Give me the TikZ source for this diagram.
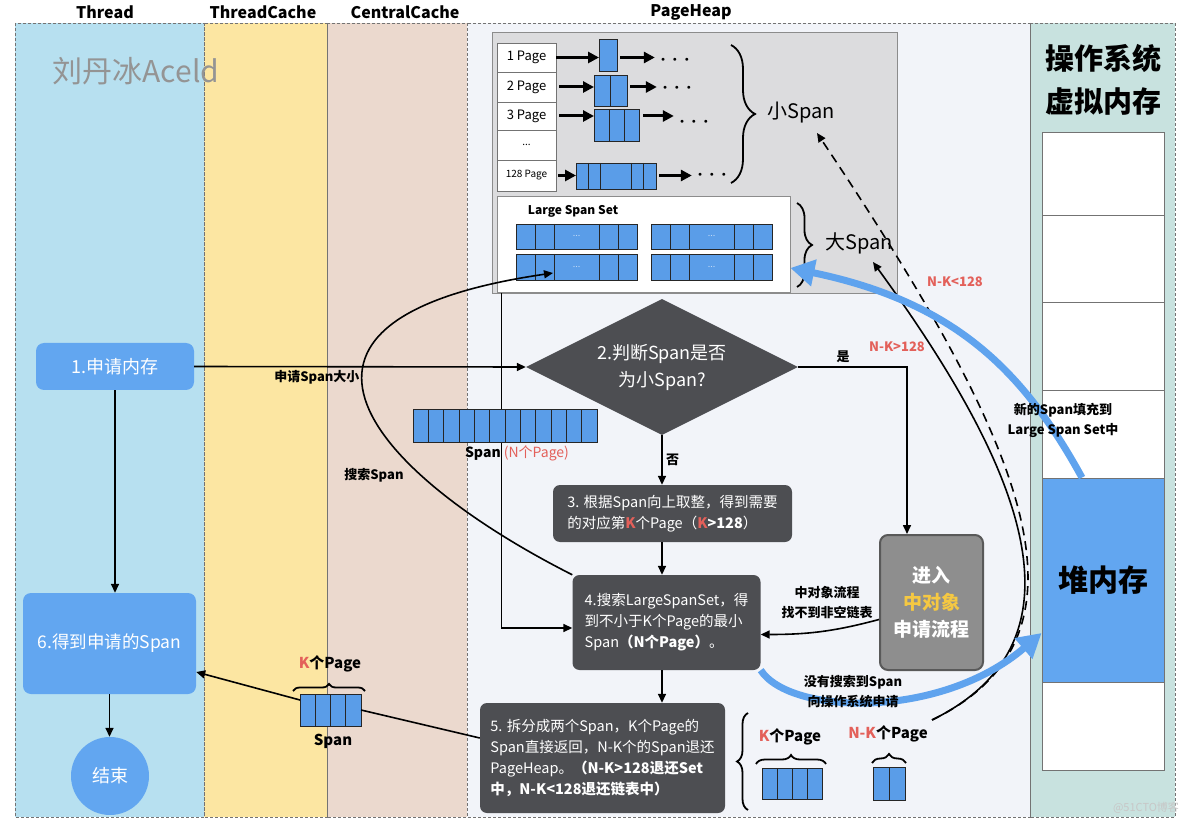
\documentclass[tikz,border=0pt]{standalone}
\usepackage{fontspec}
\setmainfont{Noto Sans CJK SC}
\usetikzlibrary{arrows.meta,shapes.geometric,decorations.pathreplacing,calc}
\definecolor{cThread}{HTML}{B7E0F0}
\definecolor{cTC}{HTML}{FCE6A2}
\definecolor{cCC}{HTML}{EBD9CE}
\definecolor{cPH}{HTML}{F2F4F9}
\definecolor{cOS}{HTML}{C8E2DF}
\definecolor{cGray}{HTML}{DCDCDE}
\definecolor{cSpan}{HTML}{5A9DE8}
\definecolor{cNode}{HTML}{62A6F0}
\definecolor{cDark}{HTML}{4D4E52}
\definecolor{cRed}{HTML}{E3605A}
\definecolor{cMid}{HTML}{8E8E8E}
\definecolor{cYel}{HTML}{F5C842}
\definecolor{cArr}{HTML}{5FA3EE}
\newcommand\myfs[2]{\fontsize{#1}{#2}\selectfont}
\newcommand\spn[6]{%
  \node[spanc, minimum width={#4-#2}, minimum height={#5-#3}] (#1) at ({(#2+#4)/2},{(#3+#5)/2}) {};
  \foreach \dd in {#6} {\draw[spanl] (\dd,#3) -- (\dd,#5);}
}
\newcommand\tridots{$\bullet\hspace{6pt}\bullet\hspace{6pt}\bullet$}
\begin{document}
\begin{tikzpicture}[x=1pt,y=-1pt,
  lane/.style={draw=black!55, dash pattern=on 3pt off 2pt, line width=0.8pt},
  hdr/.style={font=\bfseries\myfs{16}{18}},
  spanc/.style={draw=black!85, fill=cSpan, line width=0.9pt, inner sep=0pt, outer sep=0pt},
  spanl/.style={draw=black!85, line width=0.9pt},
  pg/.style={draw=black!55, fill=white, line width=0.8pt, minimum width=59pt, inner sep=0pt, font=\myfs{13}{15}},
  arr/.style={-{Triangle[length=9pt,width=8pt]}, line width=1.6pt},
  fat/.style={-{Triangle[length=11pt,width=11pt]}, line width=3pt},
  barr/.style={draw=cArr, line width=7pt, -{Triangle[length=24pt,width=26pt]}},
  dbox/.style={rounded corners=7pt, fill=cDark, text=white, inner sep=0pt, align=left, font=\myfs{14.5}{21}},
  bnode/.style={rounded corners=8pt, fill=cNode, text=white, inner sep=0pt},
  lbl/.style={font=\bfseries\myfs{13}{20}, align=center},
  rlbl/.style={font=\bfseries\myfs{13}{16}, text=cRed},
  klbl/.style={font=\bfseries\myfs{15}{17}},
  brc/.style={decorate, decoration={brace, amplitude=#1}, line width=1.8pt},
  cell/.style={draw=black!55, fill=white, line width=0.8pt, minimum width=122pt, inner sep=0pt},
  dots/.style={font=\myfs{7.5}{8}, inner sep=6pt}
]
\useasboundingbox[fill=white] (0,0) rectangle (1184,826);
% lanes
\fill[cThread] (15,23) rectangle (204,817);
\fill[cTC] (204,23) rectangle (327,817);
\fill[cCC] (327,23) rectangle (467,817);
\fill[cPH] (467,23) rectangle (1030,817);
\fill[cOS] (1030,23) rectangle (1175,817);
\foreach \a/\b in {15/204,204/327,327/467,467/1030,1030/1175} \draw[lane] (\a,23) rectangle (\b,817);
\node[hdr] (hT) at (105,12) {Thread};
\node[hdr] (hTC) at (263,12) {ThreadCache};
\node[hdr] (hCC) at (405,12) {CentralCache};
\node[hdr] (hPH) at (691,12) {PageHeap};
\node[text=black!42, font=\myfs{30}{32}] (wm) at (136,71) {刘丹冰Aceld};
\node[text=black!22, font=\myfs{11}{12}] (wm2) at (1146,808) {@51CTO博客};

% PageHeap gray box
\node[draw=black!45, fill=cGray, line width=0.8pt, minimum width=405pt, minimum height=261pt, inner sep=0pt] (ph) at (694.5,162.5) {};
\node[pg, minimum height=29pt] (p1) at (526.5,57.5) {1 Page};
\node[pg, minimum height=30pt] (p2) at (526.5,87) {2 Page};
\node[pg, minimum height=28pt] (p3) at (526.5,116) {3 Page};
\node[pg, minimum height=30pt, font=\myfs{10}{10}] (pd) at (526.5,145) {...};
\node[pg, minimum height=31pt, font=\myfs{10}{12}] (p128) at (526.5,175.5) {128 Page};
\node[spanc, minimum width=18pt, minimum height=32pt] (s1) at (608,55) {};
\spn{s2}{594}{75}{627}{106}{610.5}
\spn{s3}{594}{109}{639}{141}{609,624}
\spn{s128}{576}{163}{656}{189}{588,600,631,643}
\node[dots] (d1) at (675,60) {\tridots};
\node[dots] (d2) at (677,88) {\tridots};
\node[dots] (d3) at (694,122) {\tridots};
\node[dots] (d128) at (712,175) {\tridots};
\draw[fat] (p1.east) -- (p1.east -| s1.west);
\draw[fat] ([xshift=3pt]s1.east |- p1.east) -- (d1.west |- p1.east);
\draw[fat] ([xshift=3pt]p2.east) -- (p2.east -| s2.west);
\draw[fat] ([xshift=3pt]s2.east |- p2.east) -- (d2.west |- p2.east);
\draw[fat] ([xshift=3pt]p3.east) -- (p3.east -| s3.west);
\draw[fat] ([xshift=4pt]s3.east |- p3.east) -- (d3.west |- p3.east);
\draw[fat] ([xshift=2pt]p128.east) -- (p128.east -| s128.west);
\draw[fat] ([xshift=3pt]s128.east |- p128.east) -- (d128.west |- p128.east);
\draw[brc=24pt] (731,45) -- (731,183);
\node[font=\myfs{20}{22}] (xs) at (801,113) {小Span};

% Large span set
\node[draw=black!45, fill=white, line width=0.8pt, minimum width=293pt, minimum height=96pt, inner sep=0pt] (lss) at (643.5,244) {};
\node[font=\bfseries\myfs{12}{14}] (lsst) at (573,211) {Large Span Set};
\spn{L1a}{516}{224}{637}{249}{535,554,599,618}
\spn{L1b}{651}{224}{772}{249}{670,689,734,753}
\spn{L2a}{516}{254}{637}{280}{535,554,599,618}
\spn{L2b}{651}{254}{772}{280}{670,689,734,753}
\foreach \px/\py in {576.5/236,711.5/236,576.5/267,711.5/267}
  \node[text=white!65!cSpan, font=\myfs{9}{9}] at (\px,\py) {...};
\draw[brc=15pt] (797,203) -- (797,287);
\node[font=\myfs{20}{22}] (ds) at (859,243) {大Span};

% OS memory
\node[cell, minimum height=83pt] (m1) at (1103,173.5) {};
\node[cell, minimum height=87pt] (m2) at (1103,258.5) {};
\node[cell, minimum height=88pt] (m3) at (1103,346) {};
\node[cell, minimum height=88pt] (m4) at (1103,434) {};
\node[cell, fill=cNode, minimum height=204pt, font=\bfseries\myfs{30}{32}, text=black] (heap) at (1103,580) {堆内存};
\node[cell, minimum height=88pt] (m6) at (1103,726) {};
\node[font=\bfseries\myfs{29}{43}, align=center] (ost) at (1103,80) {操作系统\\虚拟内存};

% flow nodes
\node[bnode, minimum width=158pt, minimum height=47pt, font=\myfs{18}{20}] (n1) at (115,366.5) {1.申请内存};
\node[bnode, minimum width=173pt, minimum height=101pt, font=\myfs{17.5}{20}] (n6) at (109.5,643.5) {6.得到申请的Span};
\node[circle, fill=cNode, text=white, minimum size=78pt, inner sep=0pt, font=\myfs{18}{20}] (end) at (110,776) {结束};
\node[diamond, aspect=2, fill=cDark, text=white, minimum width=272pt, minimum height=136pt, inner sep=0pt, align=center, font=\myfs{18}{27}] (dia) at (662,367) {2.判断Span是否\\为小Span?};
\node[dbox, minimum width=239pt, minimum height=57pt] (b3) at (672.5,513.5) {3. 根据Span向上取整，得到需要\\的对应第{\color{cRed}\bfseries K}个Page（{\bfseries\color{cRed}K}{\bfseries >128}）};
\node[dbox, minimum width=188pt, minimum height=95pt] (b4) at (666.5,622.5) {4.搜索LargeSpanSet，得\\到不小于K个Page的最小\\Span{\bfseries（N个Page）}。};
\node[dbox, minimum width=245pt, minimum height=110pt] (b5) at (602.5,758) {5. 拆分成两个Span，K个Page的\\Span直接返回，N-K个的Span退还\\PageHeap。{\bfseries（N-K>128退还Set}\\{\bfseries 中，N-K<128退还链表中）}};
\node[rounded corners=8pt, fill=cMid, draw=black!65, line width=2pt, minimum width=103pt, minimum height=135pt, text=white, font=\bfseries\myfs{19}{27}, align=center] (mid) at (931.5,602.5) {进入\\{\color{cYel}中对象}\\申请流程};

% connectors
\draw[arr] ([xshift=10pt]ph.south west) |- ([yshift=-5.5pt]b4.west);
\coordinate (t1) at (553,273);
\draw[arr] (b4.north west) .. controls (375,475) and (231,320) .. (t1);
\draw[arr] (n1.east) -- (dia.west) node[pos=0.37, below, lbl] (lsz) {申请Span大小};
\draw[arr] (n1.south) -- (n1.south |- n6.north);
\draw[arr] (n6.south) -- (n6.south |- end.north);
\draw[arr] (dia.south) -- (dia.south |- b3.north) node[midway, right, lbl] (lno) {否};
\draw[arr] (b3.south -| dia.south) -- (b4.north -| dia.south);
\draw[arr] (b4.south -| dia.south) -- (b5.north -| dia.south);
\draw[arr] (dia.east) -| ([xshift=-24.5pt]mid.north) node[pos=0.206, above, lbl] (lyes) {是};
\draw[arr] ([yshift=-17pt]mid.west) to[out=195,in=0] ([yshift=-12pt]b4.east);

% spans
\spn{SN}{413}{409}{597}{442}{428.3,443.7,459,474.3,489.7,505,520.3,535.7,551,566.3,581.7}
\node[font=\myfs{14}{16}] (snl) at (517,453) {{\bfseries Span} {\color{cRed}(N个Page)}};
\spn{SK}{300}{694}{361}{726}{315.25,330.5,345.75}
\draw[brc=7pt] (293,691) -- (365,691);
\node[klbl] (skl) at (330,664) {{\color{cRed}K}个Page};
\node[klbl] (sks) at (333,741) {Span};
\spn{SK2}{762}{768}{822}{799}{777,792,807}
\draw[brc=9pt] (756,764) -- (826,764);
\node[klbl] (sk2l) at (790,737) {{\color{cRed}K}个Page};
\spn{SNK}{873}{767}{905}{800}{889}
\draw[brc=9pt] (872,763) -- (906,763);
\node[klbl] (snkl) at (888,734) {{\color{cRed}N-K}个Page};
\draw[brc=11pt] (748,810) -- (748,713);

\draw[line width=1.6pt] ([yshift=20pt]b5.west) -- (SK.east);
\draw[arr] ([yshift=10pt]SK.west) -- ([yshift=-28.5pt]n6.east);

% right curves
\coordinate (c0) at (932,720);
\coordinate (t2) at (873,262);
\coordinate (t3) at (817,133);
\draw[arr] (c0) .. controls (1093,641) and (1025,471) .. (t2);
\draw[arr, dash pattern=on 9pt off 6pt] (c0) .. controls (1109,634) and (1023,441) .. (t3);

% blue arrows
\draw[barr] ([xshift=-21pt]heap.north) .. controls (1023,370) and (954,302) .. ([yshift=-24pt]lss.east);
\draw[barr] (b4.south east) .. controls (790,715) and (940,720) .. ([yshift=-53pt]heap.west);

% labels
\node[lbl] (lsearch) at (374,475) {搜索Span};
\node[lbl] (lmid) at (827,603) {中对象流程\\找不到非空链表};
\node[lbl] (los) at (853,692) {没有搜索到Span\\向操作系统申请};
\node[lbl] (lfill) at (1063,420) {新的Span填充到\\Large Span Set中};
\node[rlbl] (lgt) at (897,347) {N-K>128};
\node[rlbl] (llt) at (955,282) {N-K<128};
\end{tikzpicture}
\end{document}
